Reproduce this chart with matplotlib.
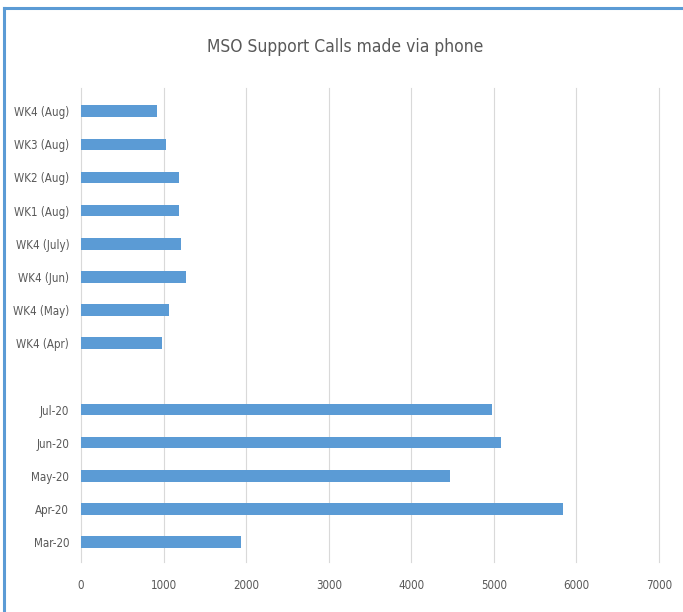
import matplotlib
matplotlib.use("Agg")
import matplotlib.pyplot as plt
from matplotlib.lines import Line2D

categories = ["Mar-20", "Apr-20", "May-20", "Jun-20", "Jul-20", "",
              "WK4 (Apr)", "WK4 (May)", "WK4 (Jun)", "WK4 (July)",
              "WK1 (Aug)", "WK2 (Aug)", "WK3 (Aug)", "WK4 (Aug)"]
calls = [1935, 5835, 4470, 5090, 4980, None,
         975, 1065, 1270, 1210, 1190, 1183, 1033, 923]
x_ticks = [0, 1000, 2000, 3000, 4000, 5000, 6000, 7000]

plt.rcParams['font.family'] = ['DejaVu Sans']
plt.rcParams['font.stretch'] = 'condensed'

fig = plt.figure(figsize=(6.83, 6.12), dpi=100)
ax = fig.add_axes([81/683, 1-562/612, (659-81)/683, (562-88)/612])

pos = list(range(len(categories)))
vals = [v if v is not None else 0 for v in calls]
ax.barh(pos, vals, height=0.35, color="#5B9BD5", zorder=3)

ax.set_xlim(0, 7000)
ax.set_ylim(-0.6, 13.7)
ax.set_xticks(x_ticks)
ax.set_xticklabels([str(t) for t in x_ticks])
ax.set_yticks(pos)
ax.set_yticklabels(categories)
ax.tick_params(axis='both', length=0, colors="#595959", labelsize=8.3)
ax.tick_params(axis='x', pad=12)
ax.tick_params(axis='y', pad=8.5)
ax.grid(axis='x', color="#D9D9D9", linewidth=0.8, zorder=0)
for gl in ax.get_xgridlines():
    gl.set_clip_on(False)
for s in ax.spines.values():
    s.set_visible(False)

fig.text(345/683, 1-47/612, "MSO Support Calls made via phone", ha='center', va='center',
         fontsize=12.5, color="#595959")

# chart frame (top and left edges visible)
fig.add_artist(Line2D([4/683, 1], [1-8/612, 1-8/612], color="#5B9BD5", linewidth=2.2, transform=fig.transFigure))
fig.add_artist(Line2D([4/683, 4/683], [0, 1-8/612], color="#5B9BD5", linewidth=2.2, transform=fig.transFigure))

fig.savefig("out.png", dpi=100)
